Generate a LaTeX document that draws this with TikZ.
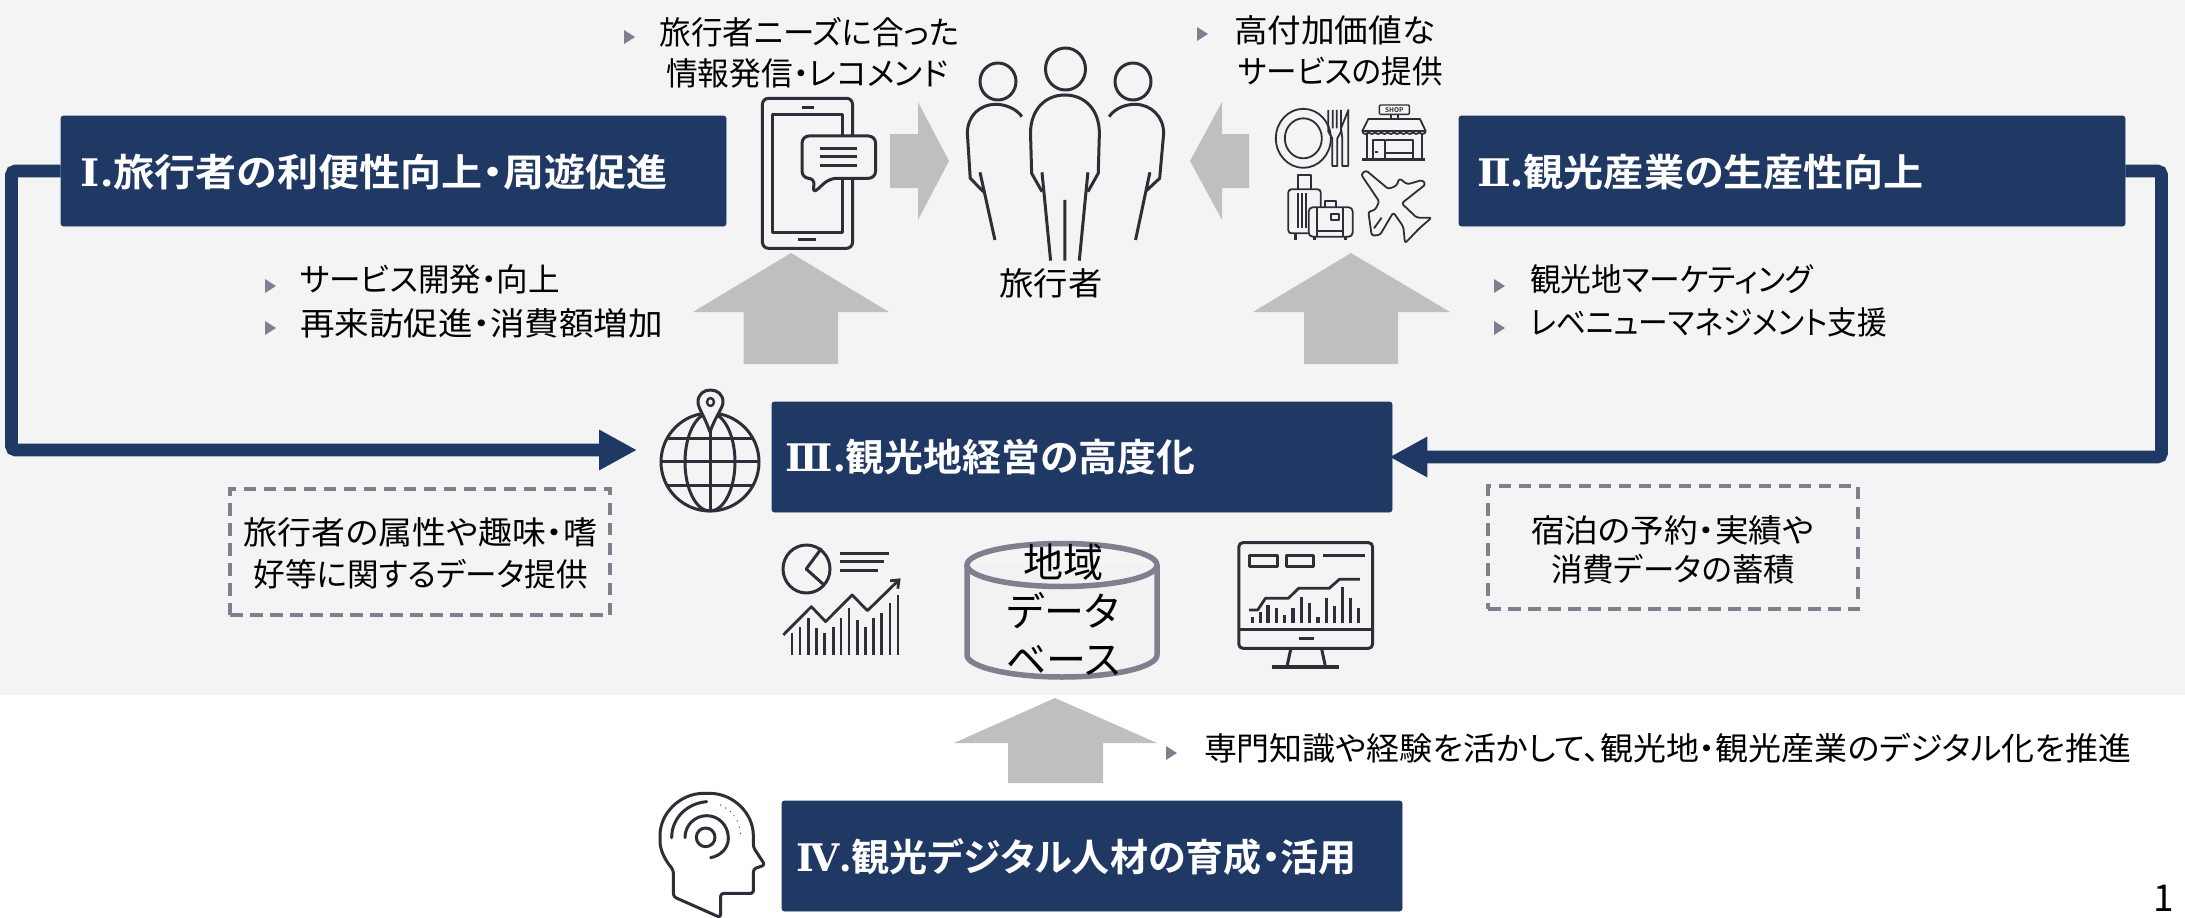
\documentclass[tikz,border=0pt]{standalone}
\usepackage{fontspec}
\usepackage{graphicx}
\usetikzlibrary{arrows.meta}
\setmainfont{Noto Sans CJK JP}[RawFeature=+palt,BoldFont={Noto Sans CJK JP Bold}]
\newfontfamily\romanfont{DejaVu Serif}[BoldFont={DejaVu Serif Bold}]
\definecolor{navy}{HTML}{1F3864}
\definecolor{panel}{HTML}{F4F4F4}
\definecolor{blockgrey}{HTML}{BFBFBF}
\definecolor{bulletgrey}{HTML}{7F7F8F}
\definecolor{icon}{HTML}{2E2E38}
\tikzset{
  titlebox/.style={fill=navy,draw=navy,line width=.8pt,rounded corners=2.5pt,inner sep=0pt},
  titletxt/.style={text=white,font=\bfseries\fontsize{38}{45}\selectfont,inner sep=0pt},
  bodytxt/.style={text=black,font=\fontsize{32}{38}\selectfont,inner sep=0pt},
  dashbox/.style={draw=bulletgrey,dash pattern=on 12.5pt off 7.5pt,line width=3.2pt,inner sep=0pt,fill=none},
  blockarrow/.style={fill=blockgrey,draw=none},
  bulletmark/.style={fill=bulletgrey,draw=none},
  conn/.style={draw=navy,line width=12.7pt,rounded corners=4pt,-{Triangle[length=38pt,width=38pt]}},
  ic/.style={draw=icon,line width=3pt,line join=round,fill=none},
  ict/.style={draw=icon,line width=1.8pt,line join=round,fill=none}
}
\newcommand{\lbl}[5][bodytxt]{\node[#1] (#2) at (#3) {\resizebox{#4pt}{\height}{#5}};}
\newcommand{\bul}[2]{\fill[bulletmark] (#1,#2-7) -- (#1+11,#2) -- (#1,#2+7) -- cycle;}
\begin{document}
\begin{tikzpicture}[x=1pt,y=-1pt]
\useasboundingbox (0,0) rectangle (2185,918);
\fill[white] (0,0) rectangle (2185,918);
\fill[panel] (0,0) rectangle (2185,695);

% block arrows
\fill[blockarrow] (890,134) -- (918,134) -- (918,102) -- (949,161) -- (918,220) -- (918,188) -- (890,188) -- cycle;
\fill[blockarrow] (1249,134) -- (1222,134) -- (1222,102) -- (1190,161) -- (1222,220) -- (1222,188) -- (1249,188) -- cycle;
\fill[blockarrow] (791,253) -- (889,312) -- (838,312) -- (838,364) -- (743.5,364) -- (743.5,312) -- (693,312) -- cycle;
\fill[blockarrow] (1351,253) -- (1450,312) -- (1398,312) -- (1398,364) -- (1304,364) -- (1304,312) -- (1253,312) -- cycle;
\fill[blockarrow] (1055,698) -- (1157,743) -- (1103,743) -- (1103,783) -- (1008,783) -- (1008,743) -- (954,743) -- cycle;

% title boxes
\node[titlebox,minimum width=665pt,minimum height=110pt] (boxI) at (393.5,171) {};
\node[titlebox,minimum width=666pt,minimum height=110pt] (boxII) at (1792,171) {};
\node[titlebox,minimum width=620pt,minimum height=110pt] (boxIII) at (1082,457) {};
\node[titlebox,minimum width=620pt,minimum height=110pt] (boxIV) at (1092,856) {};
\lbl[titletxt]{tI}{374.5,172}{587}{{\romanfont Ⅰ}.旅行者の利便性向上・周遊促進}
\lbl[titletxt]{tII}{1700.5,172}{447}{{\romanfont Ⅱ}.観光産業の生産性向上}
\lbl[titletxt]{tIII}{990.5,457}{409}{{\romanfont Ⅲ}.観光地経営の高度化}
\lbl[titletxt]{tIV}{1076.5,857}{561}{{\romanfont Ⅳ}.観光デジタル人材の育成・活用}

% connectors
\coordinate (lb) at (11.5,450);
\coordinate (la) at (637,450);
\coordinate (rb) at (2161.5,457);
\draw[conn] (boxI.west) -| (lb) -- (la);
\draw[conn,shorten >=-3pt] (boxII.east) -| (rb) -- (boxIII.east);

% texts
\bul{624}{37}\lbl{a1}{809.5,32}{299}{旅行者ニーズに合った}
\lbl{a2}{807,73}{282}{情報発信・レコメンド}
\bul{1197}{34}\lbl{b1}{1334.5,30}{201}{高付加価値な}
\lbl{b2}{1340.5,71}{205}{サービスの提供}
\lbl{trav}{1051,283}{103}{旅行者}
\bul{265}{286}\lbl{c1}{430,279}{260}{サービス開発・向上}
\bul{265}{328}\lbl{c2}{481.5,323}{363}{再来訪促進・消費額増加}
\bul{1494}{286}\lbl{d1}{1671.5,279}{283}{観光地マーケティング}
\bul{1494}{328}\lbl{d2}{1708.5,322}{357}{レベニューマネジメント支援}
\bul{1166}{753}\lbl{e1}{1667.5,748}{927}{専門知識や経験を活かして、観光地・観光産業のデジタル化を推進}

% dashed boxes
\node[dashbox,minimum width=380pt,minimum height=126pt] (dl) at (420,552) {};
\lbl{dl1}{420.5,532}{353}{旅行者の属性や趣味・嗜}
\lbl{dl2}{421,574}{334}{好等に関するデータ提供}
\node[dashbox,minimum width=370pt,minimum height=123pt] (dr) at (1673,547.5) {};
\lbl{dr1}{1672.5,530}{283}{宿泊の予約・実績や}
\lbl{dr2}{1673,569}{244}{消費データの蓄積}

\node[text=black,font=\fontsize{37}{42}\selectfont,inner sep=0pt] (pg) at (2164,898) {1};

% people and phone (zoom 1 frame)
\begin{scope}[shift={(600,0)},x=.574pt,y=-.3333pt]
  % phone
  \draw[ic,rounded corners=6pt] (283,295) rectangle (440,745);
  \draw[ic] (300,343) rectangle (423,698);
  \draw[icon,line width=2.8pt] (352,322) -- (372,322) (345,719) -- (377,719);
  \draw[ic,fill=panel,rounded corners=7pt] (352,408) -- (480,408) -- (480,535) -- (400,535) -- (370,582) -- (375,535) -- (352,535) -- cycle;
  \draw[icon,line width=3pt] (383,445) -- (448,445) (383,470) -- (448,470) (383,497) -- (448,497);
  % people
  \draw[ic] (770,575) -- (752,520) -- (750,400) .. controls (750,330) and (775,285) .. (810,285) .. controls (845,285) and (870,330) .. (870,400) -- (868,520) -- (850,575);
  \draw[ic] (770,517) -- (785,782) (850,517) -- (835,782) (810,600) -- (810,782);
  \draw[ic] (735,350) .. controls (725,325) and (705,313) .. (690,313) .. controls (660,313) and (640,350) .. (640,400) -- (645,535) -- (668,575) (662,517) -- (688,720);
  \draw[ic] (887,350) .. controls (897,325) and (915,313) .. (932,313) .. controls (960,313) and (982,350) .. (982,400) -- (975,535) -- (950,575) (958,517) -- (933,720);
\end{scope}
\draw[ic] (1065.5,69) ellipse (20pt and 21pt);
\draw[ic] (998,81.5) ellipse (18pt and 18.5pt);
\draw[ic] (1133,81.5) ellipse (18pt and 18.5pt);

% service icons (zoom 4 frame)
\begin{scope}[shift={(1260,95)},x=.3333pt,y=-.3333pt]
  \draw[ict] (130,130) ellipse (27.5pt and 29.5pt);
  \draw[ict] (130,130) ellipse (18.5pt and 20pt);
  \draw[ict] (205,45) -- (205,110) -- (217,130) -- (217,213) -- (232,213) -- (232,130) -- (243,110) -- (243,45) (218,45) -- (218,100) (230,45) -- (230,100);
  \draw[ict] (247,213) -- (247,130) -- (243,100) -- (265,45) -- (265,213) -- cycle;
  % shop
  \draw[line width=1.4pt,draw=icon,rounded corners=1pt] (358,30) rectangle (448,58);
  \node[text=icon,font=\bfseries\fontsize{6.5}{7}\selectfont,inner sep=0pt] (shop) at (403,44) {SHOP};
  \draw[ict] (392,58) -- (392,72) (414,58) -- (414,72);
  \draw[ict] (325,72) -- (480,72) -- (497,108) -- (307,108) -- cycle;
  \draw[ict] (307,108) \foreach \i in {1,...,10} {arc[start angle=180,end angle=360,x radius=9.5,y radius=-9]};
  \draw[ict] (320,115) -- (320,193) (485,115) -- (485,193);
  \draw[icon,line width=2.6pt] (307,193) -- (495,193);
  \draw[ict] (338,193) -- (338,135) -- (375,135) -- (375,193) (378,135) -- (460,135) -- (460,193) (378,175) -- (460,175);
  \fill[icon] (346,168) rectangle (354,174);
  % luggage
  \draw[ict] (115,283) -- (115,240) -- (153,240) -- (153,283);
  \draw[ict,rounded corners=3pt] (85,283) rectangle (182,415);
  \draw[ict] (115,295) -- (115,400) (127,295) -- (127,400) (139,295) -- (139,400);
  \draw[ict,line width=3pt] (107,415) -- (107,435);
  \draw[ict,fill=panel,rounded corners=4pt] (146,337) rectangle (278,425);
  \draw[ict] (195,337) -- (195,318) -- (228,318) -- (228,337);
  \draw[ict] (172,337) -- (172,425) (248,337) -- (248,425) (172,408) -- (248,408);
  \draw[ict] (212,358) rectangle (236,374);
  \draw[ict,line width=3pt] (163,425) -- (163,435) (255,425) -- (255,435);
  % plane
  \draw[ict,rounded corners=2.5pt] (303,238) -- (318,226) -- (385,282) -- (410,272) -- (418,250) -- (442,268) -- (487,255) -- (497,268) -- (425,325) -- (470,368) -- (515,368) -- (478,400) -- (435,445) -- (430,395) -- (400,352) -- (360,420) -- (335,422) -- (325,350) -- (345,345) -- (358,320) -- cycle;
  \draw[ict] (342,400) -- (365,368);
\end{scope}

% globe
\draw[ic] (710,462) circle (49pt);
\draw[ic] (710,462) ellipse (25pt and 49pt);
\draw[ic] (710,413) -- (710,511) (661,461) -- (759,461) (668,438) -- (752,438) (668,485) -- (752,485);
\draw[ic,fill=panel] (710,432) .. controls (704,415) and (698,408) .. (698,402) .. controls (698,394) and (704,390) .. (710.5,390) .. controls (717,390) and (723,394) .. (723,402) .. controls (723,408) and (716,415) .. (710,432) -- cycle;
\draw[ic,line width=2.4pt] (710.5,402) ellipse (3.5pt and 4pt);

% chart, monitor (zoom 2 frame)
\draw[ic] (806.5,569) ellipse (23.5pt and 24pt);
\begin{scope}[shift={(620,370)},x=.5102pt,y=-.3333pt]
  \draw[ic] (395,535) -- (365,597) -- (400,645);
  \draw[ic] (432,550) -- (528,550) (432,575) -- (518,575) (432,601) -- (505,601);
  \foreach \px/\pt in {337/790,353/770,369/745,385/775,401/790,418/770,433/745,449/715,465/750,481/770,497/745,513/730,529/700,545/675}
    \draw[icon,line width=2.6pt] (\px,855) -- (\px,\pt);
  \draw[ic,line width=2.8pt,-{Straight Barb[length=7pt,width=11pt]}] (320,795) -- (375,710) -- (403,755) -- (455,675) -- (485,722) -- (550,625);
  % monitor
  \draw[ic,rounded corners=4pt] (1213,518) rectangle (1475,835);
  \draw[ic] (1213,780) -- (1475,780);
  \draw[icon,line width=3.5pt] (1330,805) -- (1360,805);
  \draw[ic] (1315,835) -- (1308,885) (1375,835) -- (1382,885);
  \draw[icon,line width=3.8pt] (1277,890) -- (1410,890);
  \draw[ic] (1233,558) rectangle (1288,590) (1307,558) rectangle (1360,590) (1378,558) -- (1460,558);
  \draw[ic,line width=2.8pt] (1233,720) -- (1250,720) -- (1265,685) -- (1310,685) -- (1330,655) -- (1390,655) -- (1410,628) -- (1450,628);
  \foreach \px/\pt in {1240/740,1255/725,1270/705,1287/715,1303/735,1319/715,1335/680,1352/700,1368/740,1384/685,1400/708,1416/650,1432/685,1448/715}
    \draw[icon,line width=3.2pt] (\px,758) -- (\px,\pt);
\end{scope}

% cylinder
\definecolor{cylfill}{HTML}{F2F2F2}
\draw[bulletgrey,line width=5.5pt,fill=cylfill] (967,565) -- (967,655) .. controls (967,667) and (1010,677) .. (1062,677) .. controls (1114,677) and (1157,667) .. (1157,655) -- (1157,565);
\draw[bulletgrey,line width=5.5pt] (1062,565) ellipse (95pt and 21.5pt);
\node[text=black,align=center,font=\fontsize{40}{48.5}\selectfont,inner sep=0pt] (cyl) at (1063,610) {地域\\データ\\ベース};

% head
\begin{scope}[shift={(650,785)},x=.3333pt,y=-.3333pt]
  \draw[ic,rounded corners=3pt] (70,335) -- (70,255) .. controls (45,225) and (30,195) .. (30,160) .. controls (30,85) and (90,25) .. (170,25) .. controls (250,25) and (310,85) .. (310,160) -- (310,187) -- (345,240) -- (310,252) -- (310,310) .. controls (310,320) and (305,325) .. (295,325) -- (212,325) -- (212,398) -- cycle;
  \draw[ic,line cap=round] (65,158) .. controls (65,100) and (110,55) .. (170,50);
  \draw[ic,line cap=round] (105,158) .. controls (105,120) and (135,92) .. (170,92) .. controls (205,92) and (235,120) .. (235,160) .. controls (235,190) and (212,212) .. (182,218);
  \draw[ic] (167,157) circle (28);
  \foreach \px/\py in {212/60,227/69,241/79,252/92,262/108,268/126,272/145}
    \fill[icon] (\px,\py) circle (2);
\end{scope}
\end{tikzpicture}
\end{document}
